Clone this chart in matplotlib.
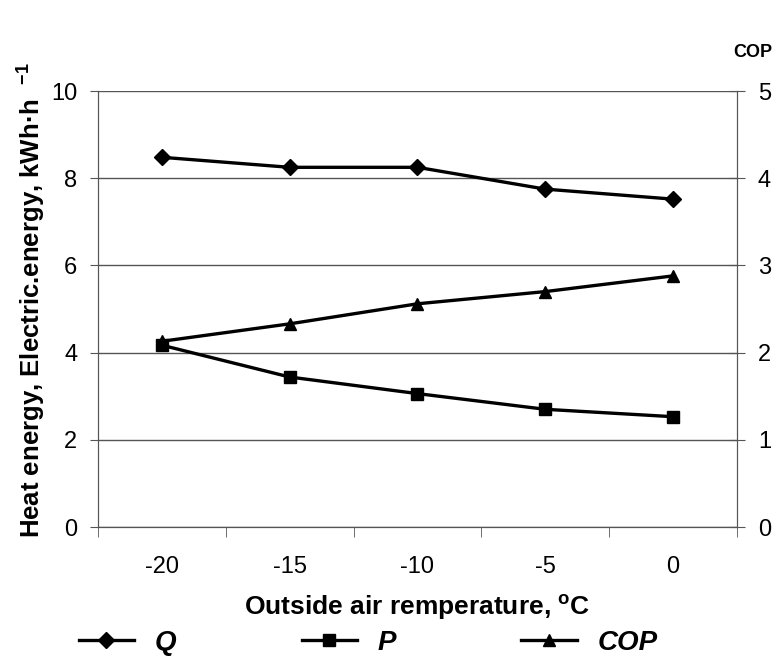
import matplotlib
matplotlib.use("Agg")
import matplotlib.pyplot as plt

plt.rcParams['font.family'] = ['Liberation Sans', 'DejaVu Sans']
plt.rcParams['mathtext.fontset'] = 'custom'
plt.rcParams['mathtext.rm'] = 'Liberation Sans'
plt.rcParams['mathtext.bf'] = 'Liberation Sans:bold'

temps = ['-20', '-15', '-10', '-5', '0']
Q = [8.48, 8.25, 8.25, 7.75, 7.52]
P = [4.17, 3.44, 3.06, 2.70, 2.53]
COP = [2.13, 2.33, 2.56, 2.70, 2.88]

fig = plt.figure(figsize=(7.76, 6.61), dpi=100)
ax = fig.add_axes([0.1263, 0.2027, 0.8234, 0.6596])
ax2 = ax.twinx()

x = list(range(len(temps)))
lq, = ax.plot(x, Q, color='black', lw=2.4, marker='D', ms=8, label='Q')
lp, = ax.plot(x, P, color='black', lw=2.4, marker='s', ms=8, label='P')
lc, = ax2.plot(x, COP, color='black', lw=2.4, marker='^', ms=9, label='COP')

ax.set_xlim(-0.5, len(temps) - 0.5)
ax.set_ylim(0, 10)
ax2.set_ylim(0, 5)
ax.set_yticks([0, 2, 4, 6, 8, 10])
ax2.set_yticks([0, 1, 2, 3, 4, 5])
ax.set_xticks(x)
ax.set_xticklabels(temps)
ax.set_xticks([i - 0.5 for i in range(len(temps) + 1)], minor=True)
ax.tick_params(axis='x', which='major', length=0, labelsize=17, pad=21)
ax.tick_params(axis='x', which='minor', length=7, direction='out', color='#555555')
ax.tick_params(axis='y', labelsize=17, length=6, direction='out', color='#555555', pad=9)
ax2.tick_params(axis='y', labelsize=17, length=12, direction='inout', color='#555555', pad=9)

ax.grid(axis='y', color='#555555', lw=1)
for a in (ax, ax2):
    for s in a.spines.values():
        s.set_color('#555555')
ax2.spines['top'].set_visible(False)
ax.spines['top'].set_visible(False)

ax.set_ylabel(r'Heat energy, Electric.energy, kWh·h  $^{\mathbf{-1}}$',
              fontsize=18.5, fontweight='bold')
ax.yaxis.set_label_coords(-0.105, 0.52)
ax.yaxis.label.set_va('center')
ax.set_xlabel(r'Outside air remperature, $^{\mathbf{o}}$C',
              fontsize=19, fontweight='bold')
ax.xaxis.set_label_coords(0.5, -0.183)
ax.xaxis.label.set_va('center')
fig.text(0.970, 0.921, 'COP', fontsize=13, fontweight='bold', ha='center', va='center')

fig.legend(handles=[lq, lp, lc], loc='center left', bbox_to_anchor=(0.069, 0.027), ncol=3,
           frameon=False, handlelength=2.0, columnspacing=4.5, handletextpad=0.75,
           prop={'weight': 'bold', 'style': 'italic', 'size': 20})

fig.savefig('out.png', dpi=100)
